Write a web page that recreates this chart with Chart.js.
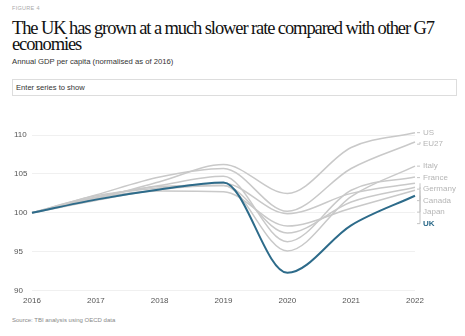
<!DOCTYPE html>
<html>
<head>
<meta charset="utf-8">
<script src="https://cdn.jsdelivr.net/npm/chart.js@4"></script>
<style>
  body { margin: 0; width: 465px; height: 336px; background: #fff; position: relative; font-family: "Liberation Sans", Arial, sans-serif; overflow: hidden; }
  .fig { position: absolute; left: 12px; top: 5px; font-size: 5.5px; color: #aaa; letter-spacing: 0.3px; }
  h1 { position: absolute; left: 12px; top: 20px; margin: 0; font-family: "Liberation Serif", serif; font-weight: normal; font-size: 18.5px; line-height: 16px; letter-spacing: -1.1px; color: #111; width: 450px; }
  .sub { position: absolute; left: 12px; top: 57px; font-size: 7.7px; color: #333; }
  .search { position: absolute; left: 12px; top: 79px; width: 440px; height: 15px; border: 1px solid #ddd; font-size: 7.6px; color: #333; line-height: 15px; padding-left: 3px; box-sizing: content-box; }
  #wrap { position: absolute; left: 0; top: 110px; width: 465px; height: 200px; }
  .src { position: absolute; left: 12px; top: 317px; font-size: 6px; color: #888; }
</style>
</head>
<body>
<div class="fig">FIGURE 4</div>
<h1>The UK has grown at a much slower rate compared with other G7 economies</h1>
<div class="sub">Annual GDP per capita (normalised as of 2016)</div>
<div class="search">Enter series to show</div>
<div id="wrap"><canvas id="myChart"></canvas></div>
<div class="src">Source: TBI analysis using OECD data</div>

<script>
const years = ['2016', '2017', '2018', '2019', '2020', '2021', '2022'];
const yTicks = [90, 95, 100, 105, 110];

const us      = [100, 101.8, 104.0, 106.2, 102.5, 108.4, 110.3];
const eu27    = [100, 102.3, 104.6, 105.7, 100.2, 105.7, 109.1];
const italy   = [100, 101.6, 103.0, 103.5,  95.1, 102.1, 106.0];
const france  = [100, 102.0, 103.5, 104.7,  96.3, 102.9, 104.6];
const germany = [100, 102.2, 103.2, 103.8,  99.9, 102.5, 103.8];
const canada  = [100, 102.0, 103.4, 103.5,  97.4, 101.4, 103.3];
const japan   = [100, 101.9, 102.8, 102.7,  98.3, 100.6, 102.9];
const uk      = [100, 101.7, 103.0, 103.9,  92.3,  98.4, 102.2];

const grey = '#c9c9c9';
const blue = '#2d6b8a';

function series(label, data, color, width, order) {
    return {
        label: label,
        data: data,
        borderColor: color,
        borderWidth: width,
        pointRadius: 0,
        cubicInterpolationMode: 'monotone',
        clip: false,
        order: order
    };
}

// names at the end of each line, pushed apart so they don't overlap
const endLabels = {
    id: 'endLabels',
    afterDatasetsDraw(chart) {
        const c = chart.ctx;
        let items = [];
        chart.data.datasets.forEach((ds, i) => {
            const pts = chart.getDatasetMeta(i).data;
            const p = pts[pts.length - 1];
            items.push({ text: ds.label, x: p.x, y: p.y, ly: p.y, color: ds.label === 'UK' ? blue : '#b5b5b5', bold: ds.label === 'UK' });
        });
        items.sort((a, b) => a.y - b.y);
        const gap = 11.5;
        for (let i = 1; i < items.length; i++) {
            if (items[i].ly < items[i - 1].ly + gap) {
                items[i].ly = items[i - 1].ly + gap;
            }
        }
        c.save();
        c.lineWidth = 1;
        c.strokeStyle = '#c4c4c4';
        items.forEach(it => {
            c.beginPath();
            c.moveTo(it.x + 2, it.ly);
            c.lineTo(it.x + 5, it.ly);
            if (Math.abs(it.ly - it.y) > 1) {
                c.moveTo(it.x + 5, it.y);
                c.lineTo(it.x + 5, it.ly);
            }
            c.stroke();
            c.fillStyle = it.color;
            c.font = (it.bold ? 'bold ' : '') + '8px "Liberation Sans", Arial, sans-serif';
            c.textBaseline = 'middle';
            c.textAlign = 'left';
            c.fillText(it.text, it.x + 8, it.ly);
        });
        c.restore();
    }
};

const ctx = document.getElementById('myChart').getContext('2d');
const myChart = new Chart(ctx, {
    type: 'line',
    data: {
        labels: years,
        datasets: [
            series('UK', uk, blue, 2, 0),
            series('US', us, grey, 1.5, 1),
            series('EU27', eu27, grey, 1.5, 1),
            series('Italy', italy, grey, 1.5, 1),
            series('France', france, grey, 1.5, 1),
            series('Germany', germany, grey, 1.5, 1),
            series('Canada', canada, grey, 1.5, 1),
            series('Japan', japan, grey, 1.5, 1)
        ]
    },
    options: {
        responsive: true,
        maintainAspectRatio: false,
        animation: false,
        layout: {
            padding: { left: 14, right: 50, top: 25, bottom: 0 }
        },
        plugins: {
            legend: { display: false },
            tooltip: { enabled: false }
        },
        scales: {
            x: {
                offset: false,
                grid: { display: false, drawTicks: false },
                border: { display: false },
                ticks: {
                    color: '#555',
                    font: { size: 8, family: '"Liberation Sans", Arial, sans-serif' },
                    padding: 5,
                    maxRotation: 0,
                    autoSkip: false
                },
                afterFit: function(scale) { scale.height = 19.3; }
            },
            y: {
                min: yTicks[0],
                max: yTicks[yTicks.length - 1],
                afterBuildTicks: function(scale) {
                    scale.ticks = yTicks.map(v => ({ value: v }));
                },
                grid: { color: '#f0f0f0', drawTicks: false },
                border: { display: false },
                ticks: {
                    color: '#555',
                    crossAlign: 'far',
                    padding: 0,
                    font: { size: 8, family: '"Liberation Sans", Arial, sans-serif' }
                },
                afterFit: function(scale) { scale.width = 18; }
            }
        }
    },
    plugins: [endLabels]
});
</script>
</body>
</html>
